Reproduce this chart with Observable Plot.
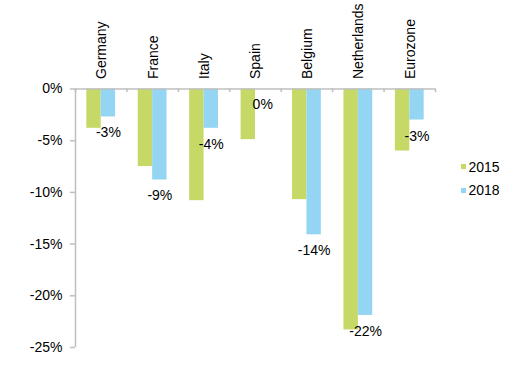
<!DOCTYPE html>
<html><head><meta charset="utf-8">
<script src="https://cdn.jsdelivr.net/npm/d3@7"></script>
<script src="https://cdn.jsdelivr.net/npm/@observablehq/plot@0.6"></script>
<style>
body{margin:0;background:#fff;}
#chart{position:relative;width:518px;height:367px;font-family:"Liberation Sans",Arial,sans-serif;color:#000;}
#chart svg{display:block;}
.legend{position:absolute;left:461px;top:155px;font-size:14px;color:#000;line-height:1;}
.legend .row{display:flex;align-items:center;height:23.5px;}
.legend .sw{width:5px;height:5px;margin-right:2.5px;display:inline-block;}
</style></head><body><div id="chart"></div>
<script>
const countries = ["Germany","France","Italy","Spain","Belgium","Netherlands","Eurozone"];
const values2015 = [-3.8,-7.5,-10.8,-4.9,-10.7,-23.3,-6.0];
const values2018 = [-2.7,-8.8,-3.8,0,-14.1,-21.9,-3.0];
const labels2018 = ["-3%","-9%","-4%","0%","-14%","-22%","-3%"];
const yTicks = [0,-5,-10,-15,-20,-25];
const seriesNames = ["2015","2018"];
const colors = ["#c6d966","#93d5f3"];
const axisColor = "#bfbfbf";

const rows15 = countries.map((c,i)=>({c, i, v: values2015[i]}));
const rows18 = countries.map((c,i)=>({c, i, v: values2018[i], label: labels2018[i]}));
const boundaries = d3.range(countries.length + 1);

const plot = Plot.plot({
  width: 518, height: 367,
  marginLeft: 75, marginRight: 83, marginTop: 88.5, marginBottom: 20,
  style: {fontFamily: '"Liberation Sans", Arial, sans-serif', fontSize: "14px", color: "#000", background: "#fff"},
  x: {domain: [0, countries.length], axis: null},
  y: {domain: [-25, 0], axis: null},
  marks: [
    Plot.rectY(rows15, {x1: d=>d.i+0.22, x2: d=>d.i+0.5, y: "v", fill: colors[0]}),
    Plot.rectY(rows18, {x1: d=>d.i+0.5, x2: d=>d.i+0.78, y: "v", fill: colors[1]}),
    Plot.ruleY([0], {stroke: axisColor, strokeWidth: 1.5}),
    Plot.ruleX([0], {stroke: axisColor, strokeWidth: 1.5}),
    Plot.ruleX(boundaries, {x: d=>d, y1: 0, y2: -0.35, stroke: axisColor, strokeWidth: 1.5}),
    Plot.ruleY(yTicks, {y: d=>d, x1: -0.1, x2: 0, stroke: axisColor, strokeWidth: 1.5}),
    Plot.axisY({ticks: yTicks, tickSize: 0, tickPadding: 13, tickFormat: d=>d+"%", label: null, fontSize: 14, fill: "#000"}),
    Plot.text(countries, {x: (d,i)=>i+0.5, y: 0, text: d=>d, rotate: -90, textAnchor: "start", lineAnchor: "middle", dy: -10, dx: 0.5, fontSize: 14, fill: "#000"}),
    Plot.text(rows18, {x: d=>d.i+0.64, y: "v", text: "label", dy: 16, lineAnchor: "middle", fontSize: 14, fill: "#000"})
  ]
});
const chart = document.getElementById("chart");
chart.appendChild(plot);
const legend = document.createElement("div");
legend.className = "legend";
seriesNames.forEach((s,k)=>{
  const row = document.createElement("div");
  row.className = "row";
  row.innerHTML = `<span class="sw" style="background:${colors[k]}"></span><span>${s}</span>`;
  legend.appendChild(row);
});
chart.appendChild(legend);
</script></body></html>
